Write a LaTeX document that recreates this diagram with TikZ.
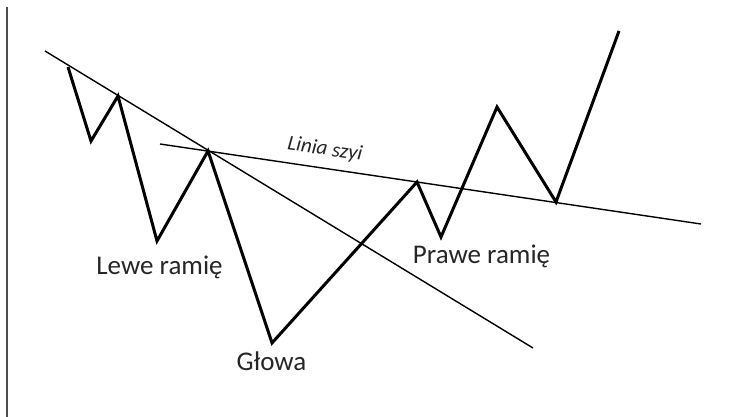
\documentclass[tikz,border=0pt]{standalone}
\usepackage{fontspec}
\setmainfont{Carlito}
\usetikzlibrary{positioning}

\begin{document}
\begin{tikzpicture}[
    x=1pt, y=-1pt,
    price/.style={line width=3pt, line join=miter},
    trend/.style={line width=1.4pt},
    axis/.style={line width=2pt, black!70},
    lbl/.style={font=\fontsize{27}{31}\selectfont, text=black!85, anchor=base, inner sep=0pt}
]
    \useasboundingbox (0,0) rectangle (747,417);

    % Axis
    \coordinate (atop) at (7,7);
    \coordinate (abot) at (7,417);
    \draw[axis] (atop) -- (abot);

    % Price path
    \coordinate (p1) at (68,67);
    \coordinate (p2) at (91,141);
    \coordinate (p3) at (118,96);
    \coordinate (ls) at (157,241);
    \coordinate (p5) at (208,151);
    \coordinate (head) at (272,343);
    \coordinate (p7) at (417,182);
    \coordinate (rs) at (441,237);
    \coordinate (p9) at (497,107);
    \coordinate (p10) at (556,202);
    \coordinate (p11) at (619,31);
    \draw[price] (p1) -- (p2) -- (p3) -- (ls) -- (p5) -- (head) -- (p7)
        -- (rs) -- (p9) -- (p10) -- (p11);

    % Trend line
    \coordinate (t1) at (45,51);
    \coordinate (t2) at (533,348);
    \draw[trend] (t1) -- (t2);

    % Neckline
    \coordinate (n1) at (160,144);
    \coordinate (n2) at (701,224);
    \draw[trend] (n1) -- node[pos=0.30, sloped, above=9pt, inner sep=0pt,
        font=\fontsize{21}{24}\selectfont\itshape, text=black!85] (neck) {Linia szyi} (n2);

    % Labels
    \node[lbl] (lewe) at (159.5,274) {Lewe ramię};
    \node[lbl] (glowa) at (271.5,370) {Głowa};
    \node[lbl] (prawe) at (481.5,263) {Prawe ramię};

\end{tikzpicture}
\end{document}
